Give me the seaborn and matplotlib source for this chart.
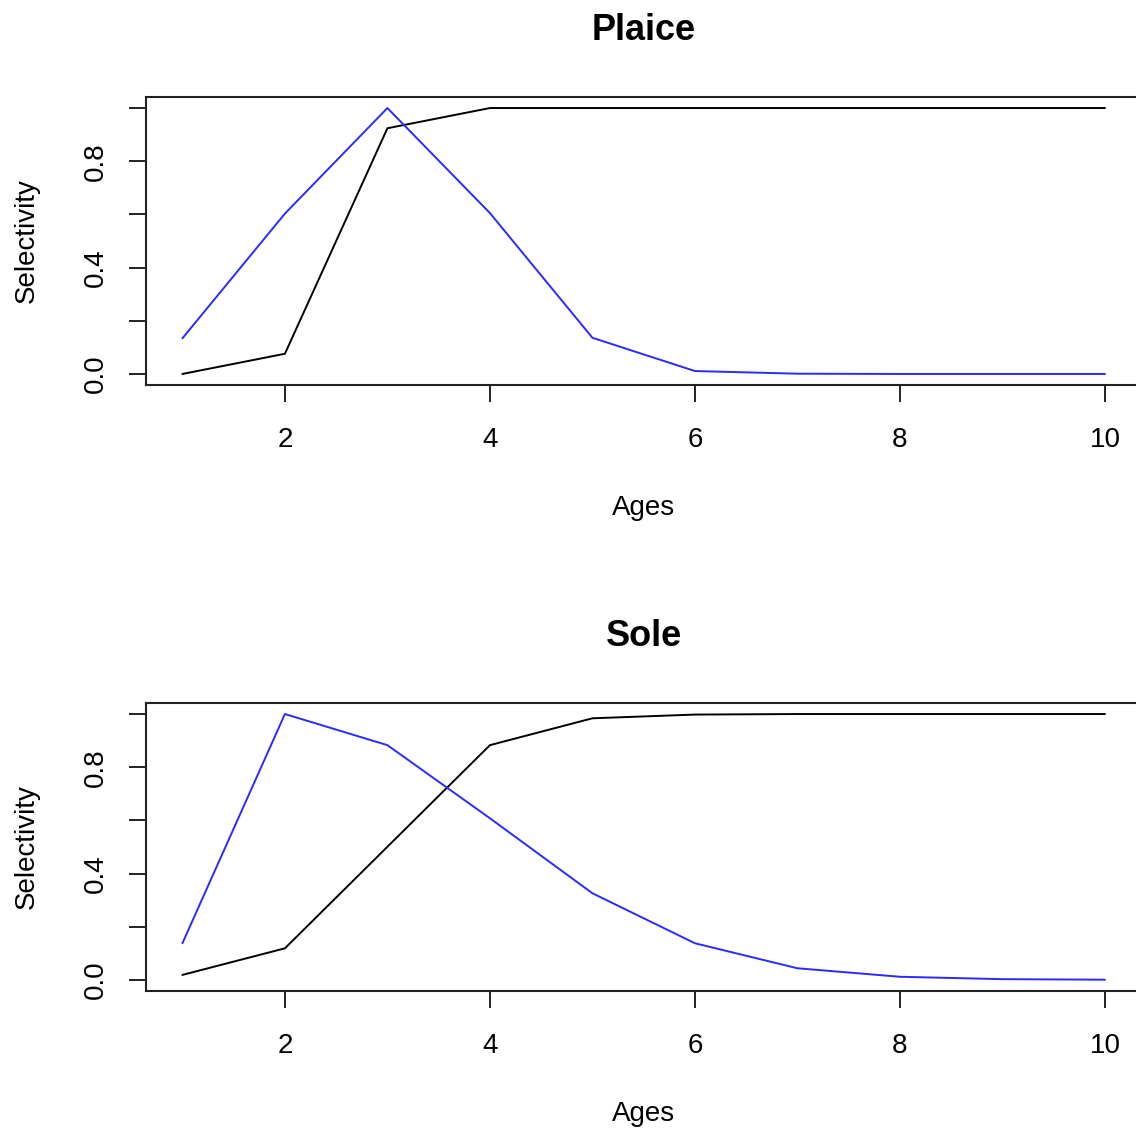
import matplotlib
matplotlib.use("Agg")
import matplotlib.pyplot as plt
import seaborn as sns
import pandas as pd

# Ages and selectivity-at-age curves
ages = [1, 2, 3, 4, 5, 6, 7, 8, 9, 10]
plaice_logistic = [0.0, 0.076, 0.924, 1.0, 1.0, 1.0, 1.0, 1.0, 1.0, 1.0]
plaice_dome = [0.134, 0.603, 1.0, 0.605, 0.136, 0.011, 0.001, 0.0, 0.0, 0.0]
sole_logistic = [0.019, 0.119, 0.501, 0.883, 0.984, 0.998, 1.0, 1.0, 1.0, 1.0]
sole_dome = [0.138, 1.0, 0.883, 0.608, 0.326, 0.138, 0.044, 0.012, 0.003, 0.001]

x_ticks = [2, 4, 6, 8, 10]
y_ticks = [0.0, 0.2, 0.4, 0.6, 0.8, 1.0]
y_tick_labels = ["0.0", "", "0.4", "", "0.8", ""]

sns.set_style("white")
plt.rcParams["font.family"] = ["Liberation Sans", "DejaVu Sans"]
plt.rcParams["text.color"] = "black"
plt.rcParams["axes.labelcolor"] = "black"
plt.rcParams["axes.titlecolor"] = "black"
plt.rcParams["axes.titley"] = 1.0

W, H = 1136, 1128
fig = plt.figure(figsize=(W / 100, H / 100), dpi=100)

panels = [
    ("Plaice", plaice_logistic, plaice_dome, 384.6),
    ("Sole", sole_logistic, sole_dome, 990.6),
]

left_px, right_px = 145.5, 1141.9
height_px = 287.2

for title, logistic, dome, bottom_px in panels:
    ax = fig.add_axes([left_px / W, (H - bottom_px) / H,
                       (right_px - left_px) / W, height_px / H])
    df = pd.DataFrame({"age": ages, "logistic": logistic, "dome": dome})
    sns.lineplot(data=df, x="age", y="logistic", ax=ax, color="black",
                 linewidth=1.4, legend=False)
    sns.lineplot(data=df, x="age", y="dome", ax=ax, color="#2a2aff",
                 linewidth=1.4, legend=False)
    ax.set_xlim(0.64, 10.36)
    ax.set_ylim(-0.04, 1.04)
    ax.set_xticks(x_ticks)
    ax.set_xticklabels([str(t) for t in x_ticks], fontsize=20)
    ax.set_yticks(y_ticks)
    ax.set_yticklabels(y_tick_labels, fontsize=20, rotation=90, va="center")
    ax.tick_params(axis="both", direction="out", length=12.2, width=1.4,
                   color="#222222", labelcolor="black")
    ax.tick_params(axis="x", pad=18, bottom=True)
    ax.tick_params(axis="y", pad=14.5, left=True)
    for side in ["left", "top", "bottom", "right"]:
        ax.spines[side].set_color("#222222")
        ax.spines[side].set_linewidth(1.5)
    ax.set_title(title, fontsize=26, fontweight="bold", pad=41.0)
    ax.set_xlabel("Ages", fontsize=20)
    ax.set_ylabel("Selectivity", fontsize=20)
    ax.xaxis.set_label_coords(0.5, -110.4 / height_px)
    ax.yaxis.set_label_coords((40 - left_px) / (right_px - left_px), 0.5)

fig.savefig("out.png", dpi=100, facecolor="white")
